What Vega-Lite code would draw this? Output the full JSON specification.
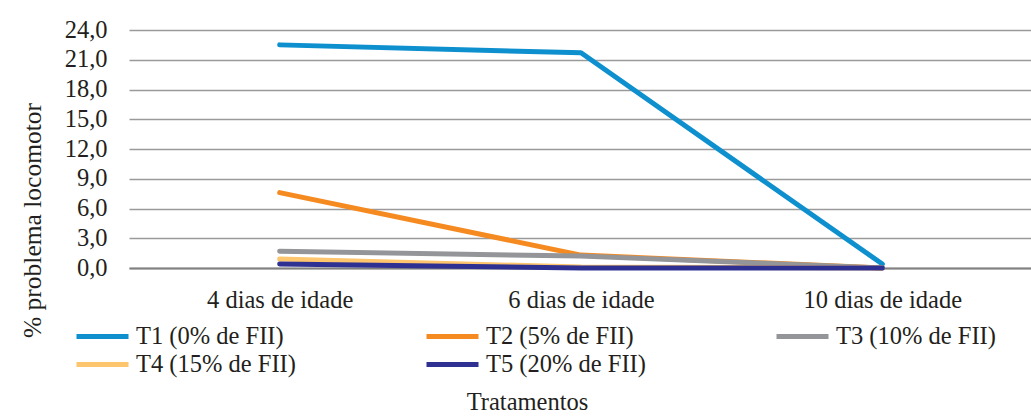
{
  "$schema": "https://vega.github.io/schema/vega-lite/v6.json",
  "autosize": {"type": "none"},
  "padding": {"left": 129, "top": 30, "right": 0, "bottom": 151},
  "width": 904,
  "height": 238,
  "background": "white",
  "config": {
    "locale": {"number": {"decimal": ",", "thousands": ".", "grouping": [3], "currency": ["", ""]}},
    "font": "Liberation Serif",
    "view": {"stroke": null},
    "axis": {"labelFont": "Liberation Serif", "titleFont": "Liberation Serif", "labelColor": "#231f20", "titleColor": "#231f20", "titleFontWeight": "normal"},
    "legend": {
      "labelFont": "Liberation Serif", "labelColor": "#231f20",
      "orient": "none", "direction": "horizontal", "columns": 3, "gridAlign": "all",
      "columnPadding": 120, "symbolType": "stroke", "symbolSize": 2704, "symbolStrokeWidth": 5,
      "labelFontSize": 24.5, "labelOffset": 5, "labelLimit": 400
    }
  },
  "data": {
    "values": [
      {"idade": "4 dias de idade", "tratamento": "T1 (0% de FII)", "valor": 22.5},
      {"idade": "6 dias de idade", "tratamento": "T1 (0% de FII)", "valor": 21.7},
      {"idade": "10 dias de idade", "tratamento": "T1 (0% de FII)", "valor": 0.4},
      {"idade": "4 dias de idade", "tratamento": "T2 (5% de FII)", "valor": 7.6},
      {"idade": "6 dias de idade", "tratamento": "T2 (5% de FII)", "valor": 1.3},
      {"idade": "10 dias de idade", "tratamento": "T2 (5% de FII)", "valor": 0.0},
      {"idade": "4 dias de idade", "tratamento": "T3 (10% de FII)", "valor": 1.7},
      {"idade": "6 dias de idade", "tratamento": "T3 (10% de FII)", "valor": 1.2},
      {"idade": "10 dias de idade", "tratamento": "T3 (10% de FII)", "valor": 0.0},
      {"idade": "4 dias de idade", "tratamento": "T4 (15% de FII)", "valor": 0.9},
      {"idade": "6 dias de idade", "tratamento": "T4 (15% de FII)", "valor": 0.1},
      {"idade": "10 dias de idade", "tratamento": "T4 (15% de FII)", "valor": 0.0},
      {"idade": "4 dias de idade", "tratamento": "T5 (20% de FII)", "valor": 0.4},
      {"idade": "6 dias de idade", "tratamento": "T5 (20% de FII)", "valor": 0.0},
      {"idade": "10 dias de idade", "tratamento": "T5 (20% de FII)", "valor": 0.0}
    ]
  },
  "encoding": {
    "x": {
      "field": "idade",
      "type": "ordinal",
      "sort": ["4 dias de idade", "6 dias de idade", "10 dias de idade"],
      "scale": {"type": "point", "padding": 0.5},
      "axis": {
        "title": "Tratamentos",
        "titleFontSize": 24.5,
        "titleX": 398,
        "titleY": 141,
        "titleAlign": "center",
        "titleBaseline": "alphabetic",
        "labelFontSize": 24.5,
        "labelAngle": 0,
        "labelPadding": 20,
        "ticks": false,
        "domain": true,
        "domainColor": "#808080",
        "domainWidth": 2,
        "grid": false
      }
    },
    "y": {
      "field": "valor",
      "type": "quantitative",
      "scale": {"domain": [0, 24], "nice": false},
      "axis": {
        "title": "% problema locomotor",
        "titleFontSize": 25.5,
        "titleX": -97,
        "titleY": 190,
        "titleAlign": "center",
        "titleBaseline": "middle",
        "values": [0, 3, 6, 9, 12, 15, 18, 21, 24],
        "format": ".1f",
        "labelFontSize": 24.5,
        "labelPadding": 22,
        "ticks": false,
        "domain": false,
        "grid": true,
        "gridColor": "#9a9a9a",
        "gridWidth": 1.5
      }
    }
  },
  "layer": [
    {
      "transform": [{"filter": {"field": "tratamento", "oneOf": ["T1 (0% de FII)", "T2 (5% de FII)", "T3 (10% de FII)"]}}],
      "mark": {"type": "line", "strokeWidth": 5, "strokeCap": "round", "strokeJoin": "round"},
      "encoding": {
        "color": {
          "field": "tratamento",
          "type": "nominal",
          "scale": {
            "domain": ["T1 (0% de FII)", "T2 (5% de FII)", "T3 (10% de FII)"],
            "range": ["#0E90CF", "#F58A21", "#939598"]
          },
          "legend": {"title": null, "legendX": -55, "legendY": 278}
        }
      }
    },
    {
      "transform": [{"filter": {"field": "tratamento", "oneOf": ["T4 (15% de FII)", "T5 (20% de FII)"]}}],
      "mark": {"type": "line", "strokeWidth": 5, "strokeCap": "round", "strokeJoin": "round"},
      "encoding": {
        "stroke": {
          "field": "tratamento",
          "type": "nominal",
          "scale": {
            "domain": ["T4 (15% de FII)", "T5 (20% de FII)"],
            "range": ["#FDC56E", "#2E3192"]
          },
          "legend": {"title": null, "legendX": -55, "legendY": 306}
        }
      }
    }
  ]
}
